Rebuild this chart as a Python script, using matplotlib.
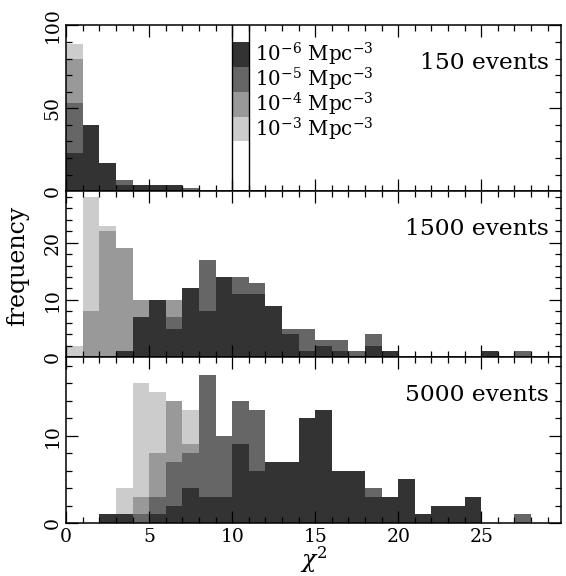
import numpy as np
import matplotlib
matplotlib.use('Agg')
import matplotlib.pyplot as plt
from matplotlib.ticker import MultipleLocator
from matplotlib.patches import Rectangle

plt.rcParams['font.family'] = 'DejaVu Serif'
plt.rcParams['mathtext.fontset'] = 'dejavuserif'

# chi^2 bins of width 1
edges = np.arange(0, 30)

labels = ['10$^{-6}$ Mpc$^{-3}$', '10$^{-5}$ Mpc$^{-3}$',
          '10$^{-4}$ Mpc$^{-3}$', '10$^{-3}$ Mpc$^{-3}$']
colors = ['#333333', '#666666', '#999999', '#cccccc']

# 150 events
n150_d6 = [23, 40, 17, 4, 4, 4, 4, 1, 0, 0, 0, 1, 0, 0, 0, 0, 0, 0, 0, 0, 0, 0, 0, 0, 0, 0, 0, 0, 0]
n150_d5 = [53, 30, 10, 7, 2, 1, 1, 2, 0, 0, 1, 0, 0, 0, 0, 0, 0, 0, 0, 0, 0, 0, 0, 0, 0, 0, 0, 0, 0]
n150_d4 = [80, 15, 3, 1, 0, 0, 0, 0, 0, 0, 0, 0, 0, 0, 0, 0, 0, 0, 0, 0, 0, 0, 0, 0, 0, 0, 0, 0, 0]
n150_d3 = [89, 10, 0, 0, 0, 0, 0, 0, 1, 0, 0, 0, 0, 1, 0, 0, 0, 0, 0, 0, 0, 0, 0, 0, 0, 0, 0, 0, 0]

# 1500 events
n1500_d6 = [0, 0, 0, 1, 7, 10, 5, 12, 8, 14, 11, 11, 9, 4, 1, 2, 1, 0, 2, 1, 0, 0, 0, 0, 0, 1, 0, 0, 0]
n1500_d5 = [0, 0, 0, 1, 3, 6, 7, 10, 17, 12, 14, 13, 7, 5, 5, 3, 3, 1, 4, 0, 0, 0, 0, 0, 0, 0, 0, 1, 0]
n1500_d4 = [0, 8, 22, 19, 10, 9, 10, 6, 4, 3, 2, 1, 0, 0, 0, 0, 0, 0, 0, 0, 0, 0, 0, 0, 0, 0, 0, 0, 0]
n1500_d3 = [2, 28, 23, 15, 8, 8, 6, 5, 2, 1, 0, 0, 0, 0, 0, 0, 0, 0, 0, 0, 0, 0, 0, 0, 0, 0, 0, 0, 0]

# 5000 events
n5000_d6 = [0, 0, 1, 1, 0, 1, 2, 4, 3, 3, 9, 6, 7, 7, 12, 13, 6, 6, 3, 3, 5, 1, 2, 2, 3, 0, 0, 0, 0]
n5000_d5 = [0, 0, 0, 0, 1, 3, 7, 8, 17, 10, 14, 13, 5, 4, 5, 3, 2, 2, 4, 1, 1, 0, 0, 0, 0, 0, 0, 1, 0]
n5000_d4 = [0, 0, 0, 0, 3, 8, 14, 9, 12, 8, 10, 8, 4, 3, 2, 1, 0, 0, 0, 0, 0, 0, 0, 0, 0, 0, 0, 0, 0]
n5000_d3 = [0, 0, 0, 4, 16, 15, 12, 13, 8, 5, 3, 2, 1, 0, 0, 0, 0, 0, 0, 0, 0, 0, 0, 0, 0, 0, 0, 0, 0]

panels = [
    ('150 events', [n150_d6, n150_d5, n150_d4, n150_d3], 100, 50, 10),
    ('1500 events', [n1500_d6, n1500_d5, n1500_d4, n1500_d3], 29, 10, 2),
    ('5000 events', [n5000_d6, n5000_d5, n5000_d4, n5000_d3], 19, 10, 2),
]

fig = plt.figure(figsize=(5.66, 5.76), dpi=100)
left, width = 0.117, 0.874
bottom, height = 0.092, 0.288

axes = []
for i, (title, series, ytop, major, minor) in enumerate(panels):
    ax = fig.add_axes([left, bottom + (2 - i) * height, width, height])
    axes.append(ax)
    # lightest drawn first, darkest on top
    for counts, c in reversed(list(zip(series, colors))):
        ax.stairs(counts, edges, fill=True, color=c, linewidth=0)
    ax.set_xlim(0, 29.8)
    ax.set_ylim(0, ytop)
    ax.xaxis.set_major_locator(MultipleLocator(5))
    ax.xaxis.set_minor_locator(MultipleLocator(1))
    ax.yaxis.set_major_locator(MultipleLocator(major))
    ax.yaxis.set_minor_locator(MultipleLocator(minor))
    ax.tick_params(which='both', direction='in', top=True, right=True,
                   labelsize=13.5, width=0.9)
    ax.tick_params(which='major', length=8.5)
    ax.tick_params(which='minor', length=4.3)
    plt.setp(ax.get_yticklabels(), rotation=90, va='center')
    for s in ax.spines.values():
        s.set_linewidth(1.1)
    if i < 2:
        ax.tick_params(labelbottom=False)
    ax.text(0.975, 0.77, title, transform=ax.transAxes, ha='right',
            va='center', fontsize=16.8)

# legend drawn inside the top panel
ax = axes[0]
ax.vlines([10, 11], 0, 100, colors='black', linewidth=1)
for k, (lab, c) in enumerate(zip(labels, colors)):
    y0 = 75 - 15 * k
    ax.add_patch(Rectangle((10, y0), 1, 15, facecolor=c, edgecolor='none'))
    ax.text(11.4, y0 + 7.5, lab, ha='left', va='center', fontsize=14.3)

axes[1].set_ylabel('frequency', fontsize=17)
axes[1].yaxis.set_label_coords(-0.075, 0.55)
axes[2].set_xlabel('$\\chi^2$', fontsize=17, labelpad=-1)

fig.savefig('out.png', dpi=100)
